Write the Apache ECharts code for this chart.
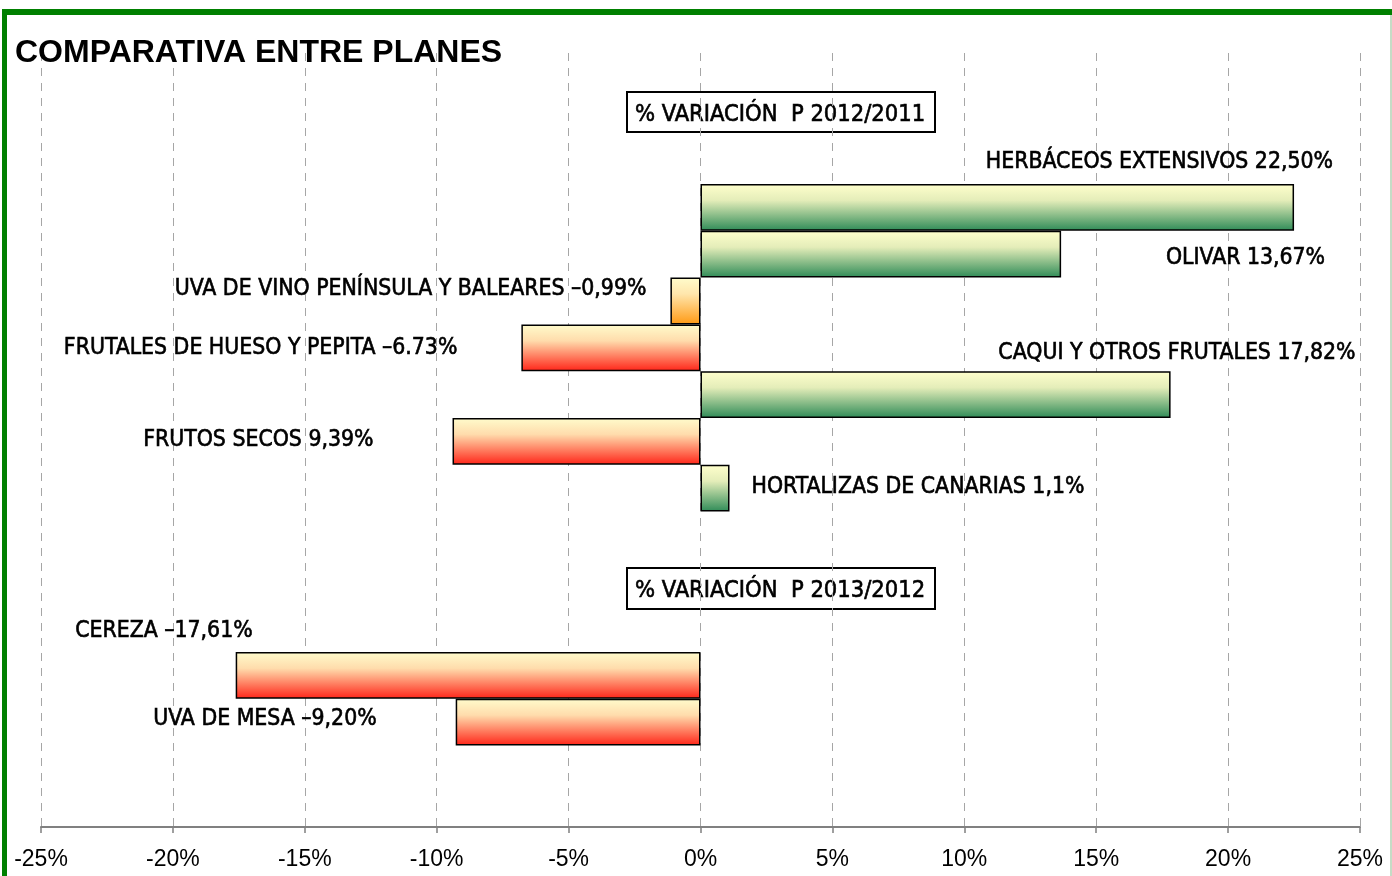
<!DOCTYPE html>
<html>
<head>
<meta charset="utf-8">
<script src="https://cdn.jsdelivr.net/npm/echarts@6/dist/echarts.min.js"></script>
<style>
html,body{margin:0;padding:0;background:#fff;}
#chart{width:1392px;height:876px;}
</style>
</head>
<body>
<div id="chart"></div>
<script>
// ---- data ----
const categories = ['', '', '', 'HERBÁCEOS EXTENSIVOS', 'OLIVAR', 'UVA DE VINO PENÍNSULA Y BALEARES',
  'FRUTALES DE HUESO Y PEPITA', 'CAQUI Y OTROS FRUTALES', 'FRUTOS SECOS', 'HORTALIZAS DE CANARIAS',
  '', '', '', 'CEREZA', 'UVA DE MESA', '', ''];
const values = [null, null, null, 22.5, 13.67, -1.14, -6.79, 17.82, -9.4, 1.1,
  null, null, null, -17.62, -9.28, null, null];
const labelTexts = [null, null, null, 'HERBÁCEOS EXTENSIVOS 22,50%', 'OLIVAR 13,67%',
  'UVA DE VINO PENÍNSULA Y BALEARES –0,99%', 'FRUTALES DE HUESO Y PEPITA –6.73%',
  'CAQUI Y OTROS FRUTALES 17,82%', 'FRUTOS SECOS 9,39%', 'HORTALIZAS DE CANARIAS 1,1%',
  null, null, null, 'CEREZA –17,61%', 'UVA DE MESA –9,20%', null, null];
const tickValues = [-25, -20, -15, -10, -5, 0, 5, 10, 15, 20, 25];
const groupTitles = ['% VARIACIÓN  P 2012/2011', '% VARIACIÓN  P 2013/2012'];

// ---- styles ----
const green = () => new echarts.graphic.LinearGradient(0, 0, 0, 1, [
  {offset: 0, color: '#ffffcc'}, {offset: 0.35, color: '#e4edb9'}, {offset: 1, color: '#2e8b57'}]);
const red = () => new echarts.graphic.LinearGradient(0, 0, 0, 1, [
  {offset: 0, color: '#fffccc'}, {offset: 0.35, color: '#ffdcac'}, {offset: 1, color: '#ff2418'}]);
const orange = () => new echarts.graphic.LinearGradient(0, 0, 0, 1, [
  {offset: 0, color: '#fffccc'}, {offset: 0.35, color: '#ffe6ac'}, {offset: 1, color: '#ff9a14'}]);
const barFill = {5: 'orange'};
// label anchor placement relative to the bar end: [align, dx, dy]
const labelPlace = {
  3: ['right', 39, -45], 4: ['right', 264, 4], 5: ['right', -24, -12], 6: ['right', -64, 0],
  7: ['right', 185, -42], 8: ['right', -79, -1], 9: ['left', 22, -1], 13: ['right', 17, -44],
  14: ['right', -79, -3]
};
const FONT = '"DejaVu Sans Condensed", "DejaVu Sans", sans-serif';
const LABEL_STYLE = {color: '#000', fontSize: 22.8, fontFamily: FONT, textBorderColor: '#000', textBorderWidth: 0.6};

const barData = values.map((v, i) => {
  if (v === null) return null;
  const kind = barFill[i] || (v >= 0 ? 'green' : 'red');
  const c = kind === 'green' ? green() : kind === 'orange' ? orange() : red();
  return {value: v, itemStyle: {color: c}};
});
const labelData = values.map((v, i) => {
  if (v === null) return null;
  const p = labelPlace[i];
  return {
    value: [v, i],
    label: Object.assign({show: true, formatter: labelTexts[i], position: 'inside', align: p[0],
      verticalAlign: 'middle', offset: [p[1], p[2]]}, LABEL_STYLE)
  };
});

const chart = echarts.init(document.getElementById('chart'), null, {renderer: 'canvas'});
const ROW = 46.8;
const option = {
  animation: false,
  backgroundColor: '#ffffff',
  title: {
    text: 'COMPARATIVA ENTRE PLANES', left: 15, top: 37, padding: 0,
    textStyle: {fontFamily: '"Liberation Sans", Arial, sans-serif', fontWeight: 'bold', fontSize: 32, color: '#000'}
  },
  grid: [
    {left: 41, right: 32, top: 53, bottom: 49},
    {left: 41, right: 32, top: 184 - 3 * ROW, height: 17 * ROW}
  ],
  xAxis: [
    {
      gridIndex: 0, type: 'value', min: -25, max: 25, interval: 5,
      axisLine: {show: true, lineStyle: {color: '#808080', width: 2}},
      axisTick: {show: true, length: 6, lineStyle: {color: '#808080', width: 1.5}},
      splitLine: {show: true, lineStyle: {color: '#a6a6a6', width: 1, type: [8, 7]}},
      axisLabel: {
        color: '#000', fontSize: 23, fontFamily: '"Liberation Sans", Arial, sans-serif', margin: 21,
        customValues: tickValues,
        formatter: v => v + '%'
      }
    },
    {gridIndex: 1, type: 'value', min: -25, max: 25, show: false}
  ],
  yAxis: [
    {gridIndex: 0, type: 'value', show: false},
    {gridIndex: 1, type: 'category', data: categories, inverse: true, show: false}
  ],
  series: [
    {
      type: 'bar', xAxisIndex: 1, yAxisIndex: 1, data: barData,
      barWidth: '100%', barGap: '0%',
      itemStyle: {borderColor: '#000', borderWidth: 1.5}
    },
    {
      type: 'scatter', xAxisIndex: 1, yAxisIndex: 1, data: labelData,
      symbolSize: 0, silent: true, itemStyle: {opacity: 1},
      label: LABEL_STYLE
    }
  ],
  graphic: [
    {type: 'rect', shape: {x: 2, y: 9, width: 5, height: 867}, style: {fill: '#008000'}},
    {type: 'rect', shape: {x: 2, y: 9, width: 1390, height: 6}, style: {fill: '#008000'}},
    {type: 'rect', shape: {x: 1390, y: 15, width: 2, height: 861}, style: {fill: '#c6dcc6'}},
    {type: 'rect', shape: {x: 627, y: 92, width: 308, height: 40}, style: {fill: '#fff', stroke: '#000', lineWidth: 2}},
    {type: 'text', x: 780, y: 115, style: {text: groupTitles[0], font: '23.5px ' + FONT, fill: '#000', stroke: '#000', lineWidth: 0.6, align: 'center', verticalAlign: 'middle'}},
    {type: 'rect', shape: {x: 627, y: 568, width: 308, height: 41}, style: {fill: '#fff', stroke: '#000', lineWidth: 2}},
    {type: 'text', x: 780, y: 591, style: {text: groupTitles[1], font: '23.5px ' + FONT, fill: '#000', stroke: '#000', lineWidth: 0.6, align: 'center', verticalAlign: 'middle'}}
  ]
};
chart.setOption(option);
</script>
</body>
</html>
